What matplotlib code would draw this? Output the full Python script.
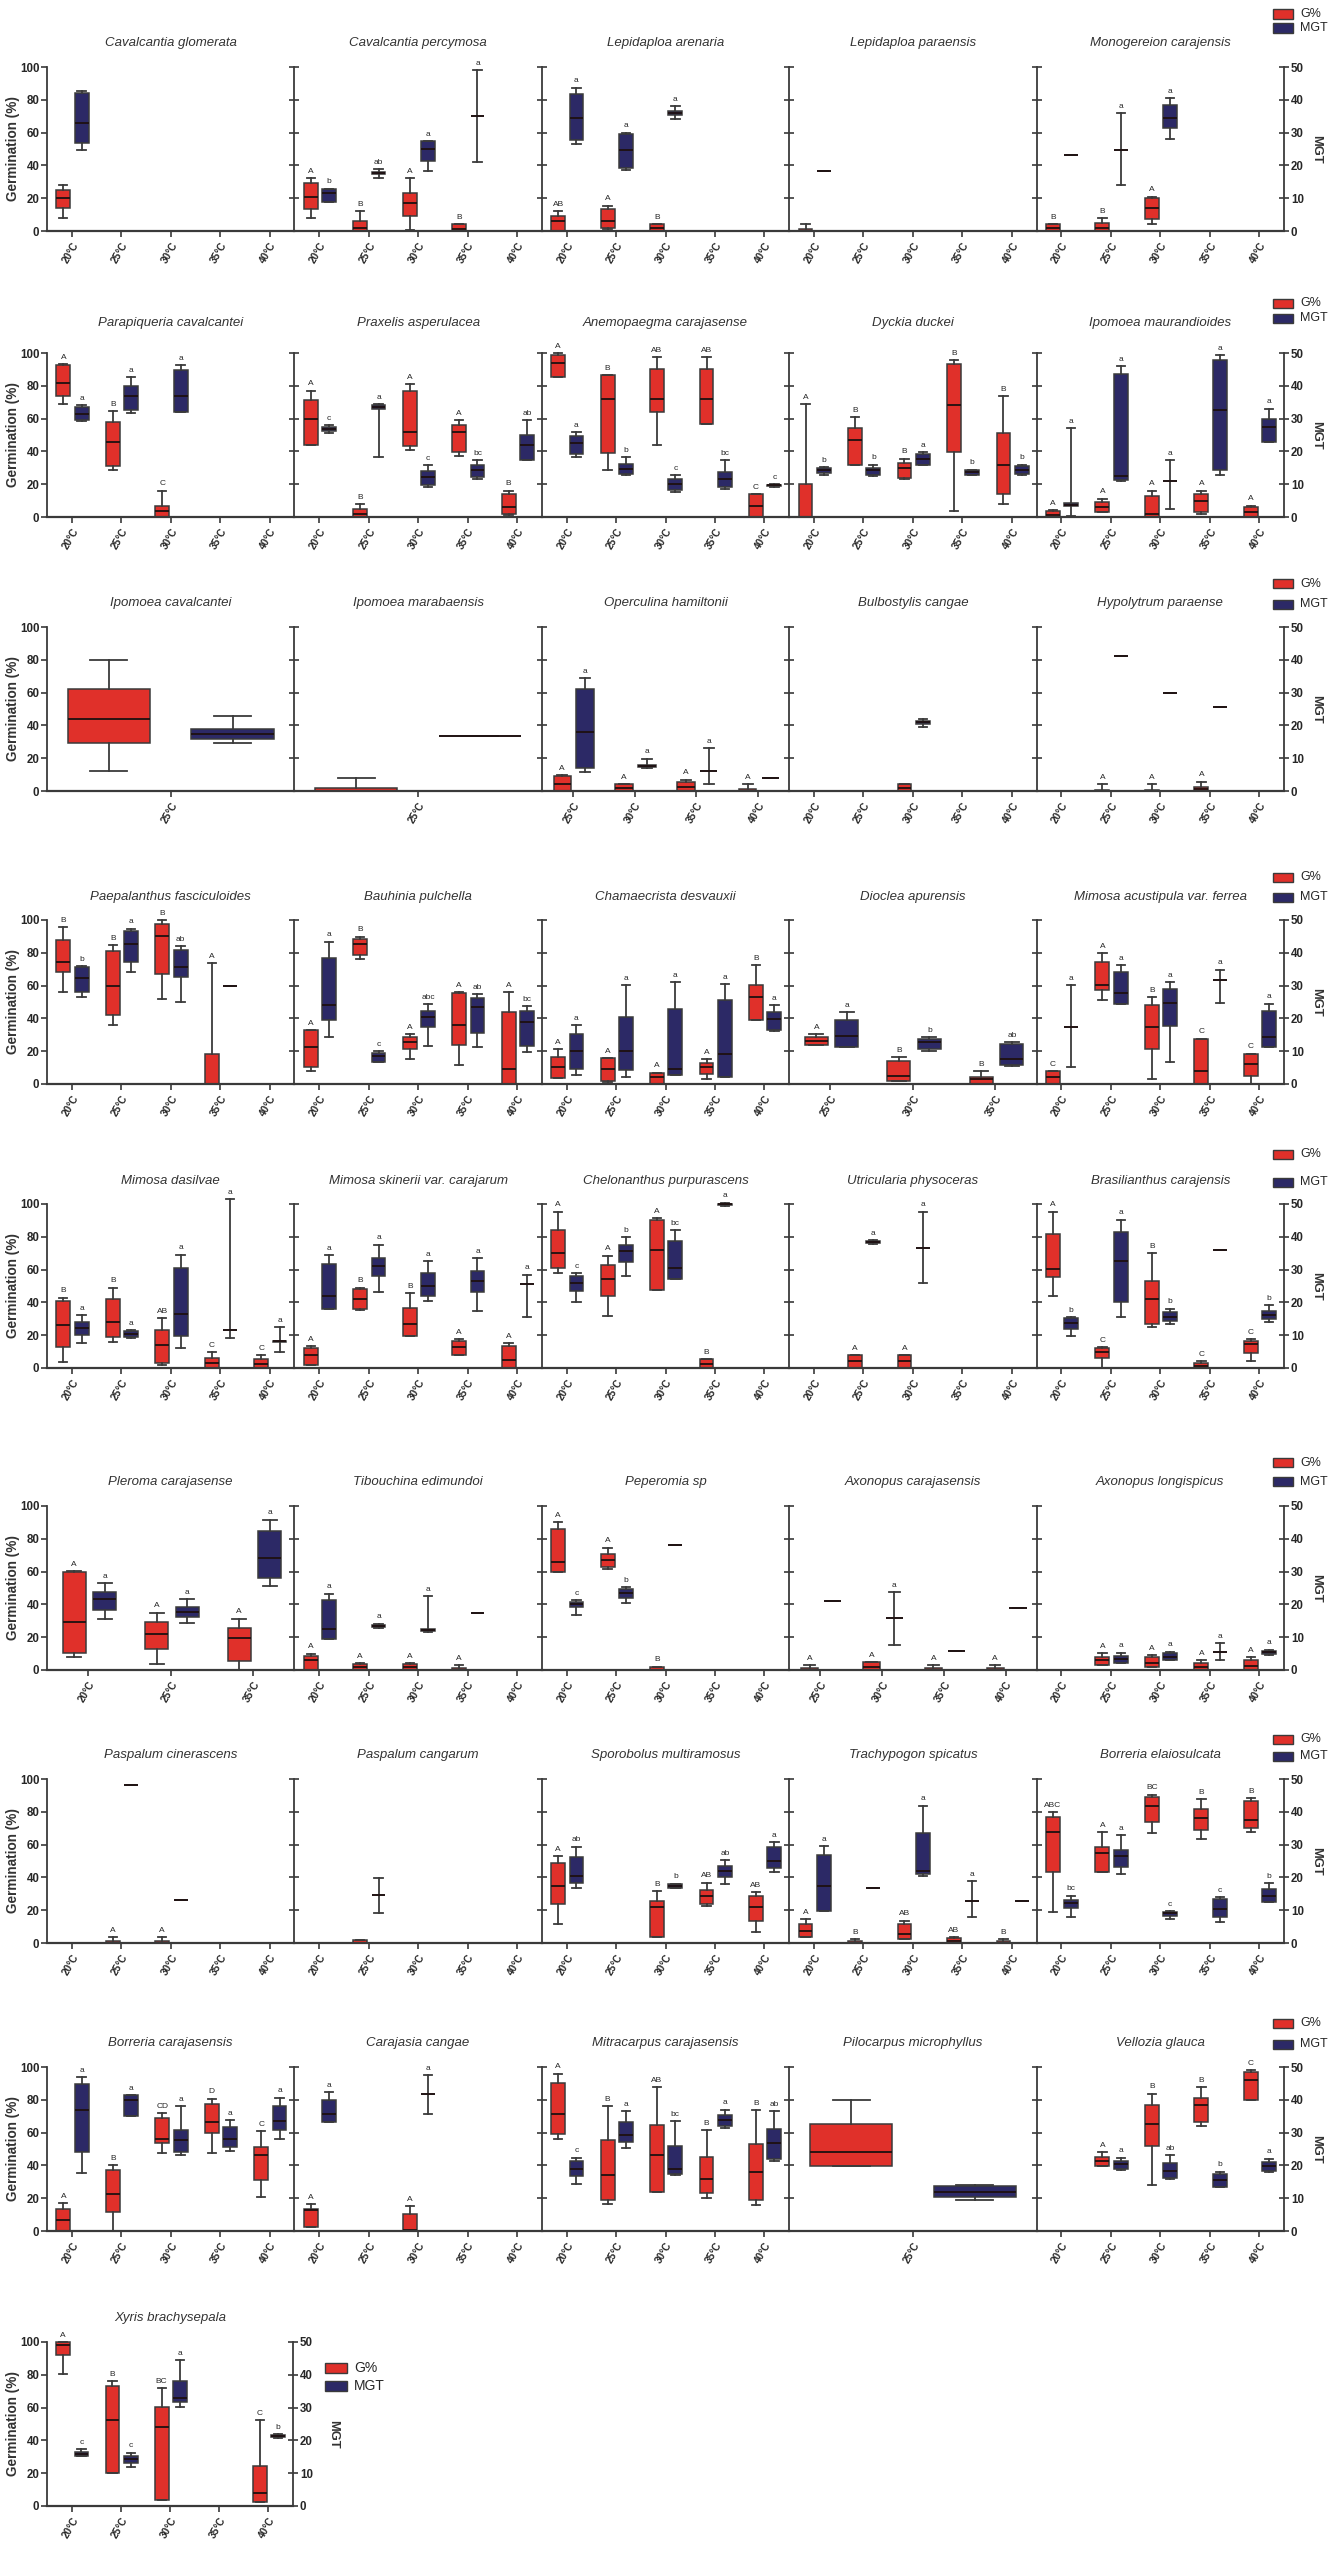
import matplotlib
matplotlib.use("Agg")
import matplotlib.pyplot as plt
from matplotlib.patches import Rectangle

plt.rcParams['font.family'] = ['Liberation Sans', 'DejaVu Sans']

T5 = ["20°C", "25°C", "30°C", "35°C", "40°C"]
T4 = ["25°C", "30°C", "35°C", "40°C"]
T1 = ["25°C"]

# ---------------- Row 1 ----------------
row1_titles = ["Cavalcantia glomerata", "Cavalcantia percymosa", "Lepidaploa arenaria",
               "Lepidaploa paraensis", "Monogereion carajensis"]
row1_temps = [T5, T5, T5, T5, T5]
row1_g = [
    [[8, 14, 20, 25, 28], None, None, None, None],
    [[7.7, 13.7, 20.6, 29.3, 32.3], [0, 0, 2, 6, 12], [0.6, 9.1, 16.8, 23.2, 32.3], [0, 0, 1, 4, 4], None],
    [[0, 0, 6, 9, 12], [1, 2, 6, 13.5, 15.5], [0, 0, 2, 4, 4], None, None],
    [[0, 0, 0, 1, 4], None, None, None, None],
    [[0, 0, 2, 4, 4], [0, 0, 2, 4.6, 8], [4, 7.5, 14, 20, 21], None, None],
]
row1_g_letters = [["", "", "", "", ""], ["A", "B", "A", "B", ""], ["AB", "A", "B", "", ""],
                  ["", "", "", "", ""], ["B", "B", "A", "", ""]]
row1_mgt = [
    [[24.7, 26.8, 32.8, 42.1, 42.7], None, None, None, None],
    [[8.8, 8.8, 11.6, 12.9, 12.9], [16.2, 17.4, 17.7, 18, 18.9], [18.2, 21.2, 25, 27.5, 27.5], [21, 35, 35, 35, 49], None],
    [[26.6, 27.8, 34.3, 41.9, 43.7], [18.7, 19.2, 24.7, 29.5, 30], [34, 35.5, 36, 36.5, 38], None, None],
    [[18.2, 18.2, 18.2, 18.2, 18.2], None, None, None, None],
    [[23.2, 23.2, 23.2, 23.2, 23.2], [14, 24.7, 24.7, 24.7, 36], [28, 31.3, 34.3, 38.4, 40.4], None, None],
]
row1_mgt_letters = [["", "", "", "", ""], ["b", "ab", "a", "a", ""], ["a", "a", "a", "", ""],
                    ["", "", "", "", ""], ["", "a", "a", "", ""]]

# ---------------- Row 2 ----------------
row2_titles = ["Parapiqueria cavalcantei", "Praxelis asperulacea", "Anemopaegma carajasense",
               "Dyckia duckei", "Ipomoea maurandioides"]
row2_temps = [T5, T5, T5, T5, T5]
row2_g = [
    [[69, 74, 82, 92.5, 93], [28.5, 31, 46, 58, 64.6], [0, 0, 3.5, 7, 16], None, None],
    [[43.7, 43.7, 60, 71.5, 77], [0, 0, 2, 5, 8], [40.7, 43, 52, 77, 81], [37, 39.6, 51.8, 56.3, 59], [1, 2, 6, 14.2, 16]],
    [[85.4, 85.4, 94, 99, 100], [28.9, 39, 72, 86.4, 86.4], [43.7, 64, 72, 90.4, 97.6], [57, 57, 72, 90.4, 97.6], [0, 0, 7, 14, 14]],
    [[0, 0, 0, 20, 69], [32, 32, 46.7, 54, 61], [23.4, 24, 30, 33, 35.6], [3.7, 39.6, 68, 93.5, 95.5], [8, 14, 32, 51, 73.6]],
    [[0, 0, 1, 3.7, 4], [3, 3, 6, 9, 11.2], [0, 0, 2, 13, 16], [1.6, 3, 10, 14.2, 16], [0, 0, 3, 6, 7]],
]
row2_g_letters = [["A", "B", "C", "", ""], ["A", "B", "A", "A", "B"], ["A", "B", "AB", "AB", "C"],
                  ["A", "B", "B", "B", "B"], ["A", "A", "A", "A", "A"]]
row2_mgt = [
    [[29.3, 29.5, 31.3, 33.5, 34], [31.7, 32.5, 37, 40, 42.7], [32, 32, 37, 44.7, 46.2], None, None],
    [[25.6, 26.2, 26.8, 27.4, 28], [18.3, 33, 33.5, 34, 34.5], [9.1, 9.7, 12.2, 13.9, 15.8], [11.7, 12.2, 14.2, 15.8, 17.3], [17.3, 17.3, 21.8, 24.9, 29.5]],
    [[18.3, 19.1, 22.6, 24.7, 25.9], [12.7, 13.2, 14.7, 16.3, 18.3], [7.6, 8.1, 10.2, 11.7, 12.7], [8.6, 9.1, 11.7, 13.7, 17.3], [9.2, 9.5, 9.7, 9.9, 10.1]],
    [[12.7, 13.5, 14.4, 14.8, 15.2], [12.4, 12.7, 14.2, 15, 16], [16, 16, 17.6, 19.1, 19.8], [12.7, 12.7, 13.7, 14.4, 14.4], [12.7, 13, 14.2, 15.4, 16]],
    [[0.2, 3.5, 3.8, 4.2, 27], [11, 11.2, 12.5, 43.5, 46], [2.5, 10.9, 10.9, 10.9, 17.3], [12.7, 14.2, 32.5, 47.8, 49.3], [22.9, 22.9, 27.4, 30, 33]],
]
row2_mgt_letters = [["a", "a", "a", "", ""], ["c", "a", "c", "bc", "ab"], ["a", "b", "c", "bc", "c"],
                    ["b", "b", "a", "b", "b"], ["a", "a", "a", "a", "a"]]

# ---------------- Row 3 ----------------
row3_titles = ["Ipomoea cavalcantei", "Ipomoea marabaensis", "Operculina hamiltonii",
               "Bulbostylis cangae", "Hypolytrum paraense"]
row3_temps = [T1, T1, T4, T5, T5]
row3_g = [
    [[12, 29.5, 44, 62, 80]],
    [[0, 0, 0, 2, 8]],
    [[0, 0, 4, 9, 9.7], [0, 0, 2, 4, 4], [0, 0, 2.6, 5.3, 7], [0, 0, 0, 1, 4]],
    [None, None, [0, 0, 2, 4, 4], None, None],
    [None, [0, 0, 0, 0.5, 4], [0, 0, 0, 0.5, 4], [0, 0, 1, 2.6, 5.7], None],
]
row3_g_letters = [[""], [""], ["A", "A", "A", "A"], ["", "", "", "", ""], ["", "A", "A", "A", ""]]
row3_mgt = [
    [[14.7, 15.8, 17.3, 19, 23]],
    [[16.8, 16.8, 16.8, 16.8, 16.8]],
    [[5.9, 7.1, 18, 31, 34.5], [7, 7.3, 7.6, 7.9, 9.9], [2, 6, 6.1, 6.2, 13], [4.1, 4.1, 4.1, 4.1, 4.1]],
    [None, None, [19.6, 20.5, 20.9, 21.3, 22], None, None],
    [None, [41.2, 41.2, 41.2, 41.2, 41.2], [30, 30, 30, 30, 30], [25.7, 25.7, 25.7, 25.7, 25.7], None],
]
row3_mgt_letters = [[""], [""], ["a", "a", "a", ""], ["", "", "", "", ""], ["", "", "", "", ""]]

# ---------------- Row 4 ----------------
row4_titles = ["Paepalanthus fasciculoides", "Bauhinia pulchella", "Chamaecrista desvauxii",
               "Dioclea apurensis", "Mimosa acustipula var. ferrea"]
row4_temps = [T5, T5, T5, ["25°C", "30°C", "35°C"], T5]
row4_g = [
    [[56, 68, 74.5, 88, 95.5], [35.7, 41.8, 60, 81.2, 84.7], [52, 67, 90.4, 97.6, 100], [0, 0, 0, 18.4, 73.5], None],
    [[7.8, 10.6, 22.4, 33, 33], [76, 78.6, 85.3, 88.2, 89.8], [15.3, 21.4, 25.5, 28.6, 30.2], [11.8, 23.5, 35.7, 55.5, 56], [0, 0, 9.2, 43.9, 56]],
    [[3.7, 3.7, 10.2, 16.7, 21.4], [1, 2, 9.2, 15.9, 15.9], [0, 0, 4, 7, 7], [3, 6.1, 10.2, 12.7, 15.3], [39.2, 39.2, 53, 60.2, 72.4]],
    [[23.5, 23.5, 26.5, 28.6, 30.6], [1.6, 1.6, 5.1, 13.9, 16.3], [0, 0, 3, 4.5, 8]],
    [[0, 0, 4, 8, 8], [51.4, 57.1, 60.2, 74.5, 79.6], [3, 21.4, 34.7, 48, 53], [0, 0, 7.8, 27.6, 27.6], [0, 5, 12, 18, 18.5]],
]
row4_g_letters = [["B", "B", "B", "A", ""], ["A", "B", "A", "A", "A"], ["A", "A", "A", "A", "B"],
                  ["A", "B", "B"], ["C", "A", "B", "C", "C"]]
row4_mgt = [
    [[26.5, 28.1, 32.4, 35.7, 35.9], [34.2, 37.2, 42.7, 46.7, 47.4], [25, 32.7, 35.7, 40.8, 42], [29.9, 29.9, 29.9, 29.9, 29.9], None],
    [[14.3, 19.4, 24, 38.3, 43.4], [6.6, 6.6, 8.4, 9.4, 10], [11.7, 17.3, 20.4, 22.4, 24.3], [11.2, 15.5, 23.5, 26.3, 27.3], [9.7, 11.7, 18.9, 22.4, 23.7]],
    [[2.6, 4.6, 10, 15.3, 17.9], [2, 4.3, 10.2, 20.4, 30.1], [2.6, 2.6, 4.6, 23, 31.1], [2.2, 2.2, 9.2, 25.7, 30.4], [16.1, 16.5, 19.9, 21.9, 24]],
    [[11.2, 11.2, 14.5, 19.4, 21.9], [10, 10.7, 12.8, 13.8, 14.3], [5.6, 5.9, 7.7, 12.2, 12.8]],
    [[5.1, 17.3, 17.3, 17.3, 30.1], [24.5, 24.5, 27.6, 34.2, 36.2], [6.6, 17.6, 24.8, 29.1, 31.1], [24.7, 31.6, 31.6, 31.6, 34.9], [11.2, 11.2, 14.3, 22.4, 24.5]],
]
row4_mgt_letters = [["b", "a", "ab", "", ""], ["a", "c", "abc", "ab", "bc"], ["a", "a", "a", "a", "a"],
                    ["a", "b", "ab"], ["a", "a", "a", "a", "a"]]

# ---------------- Row 5 ----------------
row5_titles = ["Mimosa dasilvae", "Mimosa skinerii var. carajarum", "Chelonanthus purpurascens",
               "Utricularia physoceras", "Brasilianthus carajensis"]
row5_temps = [T5, T5, T5, T5, T5]
row5_g = [
    [[3.6, 12.7, 26.4, 40.9, 42.9], [15.7, 18.8, 28.2, 42.3, 49], [2, 3.2, 14.1, 23.4, 30.2], [0, 0, 3, 6, 9.7], [0, 0, 2.6, 5.2, 8]],
    [[2, 2, 8.1, 12.1, 13.3], [35.5, 35.9, 42.3, 48.4, 49], [19.8, 19.8, 26.8, 36.3, 45.6], [8.1, 8.1, 12.7, 16.7, 17.7], [0, 0, 4.6, 13.3, 15.3]],
    [[58, 61.1, 70.2, 84.3, 95.4], [31.9, 44, 54.4, 63.1, 68.5], [47.6, 47.6, 72.2, 90.3, 91.3], [0, 0, 2.6, 5.2, 5.5], None],
    [None, [0, 0, 4, 8, 8], [0, 0, 4, 8, 8], None, None],
    [[44, 55.6, 60.1, 81.9, 95.4], [0, 6, 9.7, 12.1, 12.7], [24.8, 26.8, 41.9, 53, 70.2], [0, 0, 1, 3.2, 4], [4, 9.3, 14.7, 16.7, 17.7]],
]
row5_g_letters = [["B", "B", "AB", "C", "C"], ["A", "B", "B", "A", "A"], ["A", "A", "A", "B", ""],
                  ["", "A", "A", "", ""], ["A", "C", "B", "C", "C"]]
row5_mgt = [
    [[7.7, 10.1, 12.2, 14.1, 16.1], [9.2, 9.4, 10.4, 11.4, 11.6], [6, 9.7, 16.4, 30.5, 34.6], [9.1, 11.7, 11.7, 11.7, 51.5], [4.8, 8, 8.1, 8.2, 12.4]],
    [[17.9, 17.9, 22, 31.6, 34.3], [23.2, 28, 31, 33.6, 37.6], [20.5, 22, 25, 29, 32.6], [17.4, 23.2, 26.5, 29.5, 33.6], [15.4, 25.5, 25.5, 25.5, 28.5]],
    [[20.2, 23.5, 25.8, 28.2, 29], [28, 32.3, 35.6, 37.6, 39.9], [27, 27, 30.5, 38.6, 42.1], [49.3, 49.7, 49.9, 50.1, 50.4], None],
    [None, [37.8, 38.1, 38.4, 38.7, 39], [26, 36.6, 36.6, 36.6, 47.7], None, None],
    [[9.9, 11.9, 13.7, 15.1, 15.6], [15.4, 20.2, 32.6, 41.6, 45.2], [13.4, 14.4, 15.7, 17.1, 18.1], [36.1, 36.1, 36.1, 36.1, 36.1], [14.1, 14.9, 16.1, 17.4, 19.2]],
]
row5_mgt_letters = [["a", "a", "a", "a", "a"], ["a", "a", "a", "a", "a"], ["c", "b", "bc", "a", ""],
                    ["", "a", "a", "", ""], ["b", "a", "b", "", "b"]]

# ---------------- Row 6 ----------------
row6_titles = ["Pleroma carajasense", "Tibouchina edimundoi", "Peperomia sp",
               "Axonopus carajasensis", "Axonopus longispicus"]
row6_temps = [["20°C", "25°C", "35°C"], T5, T5, T4, T5]
row6_g = [
    [[7.7, 10.5, 29.4, 59.8, 60.4], [3.7, 12.6, 21.9, 29.4, 34.9], [0, 5.7, 19.7, 25.4, 31.4]],
    [[0, 0, 6.1, 8.5, 10], [0, 0, 2, 3.7, 4], [0, 0, 2, 3.7, 4], [0, 0, 0, 1, 3], None],
    [[59.8, 59.8, 65.9, 86.2, 90.3], [61.3, 62.9, 66.9, 71, 74.6], [0, 0, 0, 1.6, 2], None, None],
    [[0, 0, 0, 1, 3], [0, 0, 2, 5, 5], [0, 0, 0, 1, 3], [0, 0, 0, 1, 3]],
    [None, [3, 3, 6.1, 8.1, 10.5], [1.6, 2, 4, 7.7, 9.1], [0, 0, 2, 4.5, 6.1], [0, 0, 2.4, 6.1, 7.7]],
]
row6_g_letters = [["A", "A", "A"], ["A", "A", "A", "A", ""], ["A", "A", "B", "", ""],
                  ["A", "A", "A", "A"], ["", "A", "A", "A", "A"]]
row6_mgt = [
    [[15.4, 18.3, 21.5, 23.8, 26.4], [14.2, 16.2, 17.7, 19.3, 21.5], [25.6, 27.9, 34, 42.4, 45.8]],
    [[9.6, 9.6, 12.4, 21.3, 23.3], [12.7, 13.1, 13.4, 13.7, 14.1], [11.7, 12, 12.2, 12.4, 22.5], [17.4, 17.4, 17.4, 17.4, 17.4], None],
    [[16.7, 19.3, 20.1, 20.8, 21.3], [20.3, 22.1, 23.5, 24.8, 25.3], [38, 38, 38, 38, 38], None, None],
    [[20.9, 20.9, 20.9, 20.9, 20.9], [7.6, 16, 16, 16, 23.8], [5.9, 5.9, 5.9, 5.9, 5.9], [19, 19, 19, 19, 19]],
    [None, [2.2, 2.2, 3.5, 4.3, 5.3], [3, 3, 4.1, 5.1, 5.6], [3, 5.6, 5.6, 5.6, 8.1], [4.7, 4.9, 5.4, 5.9, 6.2]],
]
row6_mgt_letters = [["a", "a", "a"], ["a", "a", "a", "", ""], ["c", "b", "", "", ""],
                    ["", "a", "", ""], ["", "a", "a", "a", "a"]]

# ---------------- Row 7 ----------------
row7_titles = ["Paspalum cinerascens", "Paspalum cangarum", "Sporobolus multiramosus",
               "Trachypogon spicatus", "Borreria elaiosulcata"]
row7_temps = [T5, T5, T5, T5, T5]
row7_g = [
    [None, [0, 0, 0, 1.4, 3.4], [0, 0, 0, 1.4, 3.4], None, None],
    [None, [0, 0, 0, 1.8, 1.8], None, None, None],
    [[11.5, 23.7, 34.8, 48.6, 53], None, [3.4, 3.4, 21.7, 25.7, 31.8], [22.7, 23.7, 28.7, 32.4, 36.8], [6.9, 13.6, 21.7, 28.7, 31.2]],
    [[3.4, 3.4, 7.5, 11.5, 14.6], [0, 0, 0, 1, 2.4], [2.4, 2.4, 5.5, 11.5, 13.6], [0, 0, 1, 2.8, 3.4], [0, 0, 0, 1, 2.4]],
    [[19, 43.3, 67.6, 76.9, 79.8], [43.3, 43.3, 55.1, 58.7, 67.6], [67.2, 73.7, 83.8, 89.1, 90.5], [63.2, 69.2, 76.3, 81.8, 87.9], [67.6, 70.2, 75.3, 86.4, 88.5]],
]
row7_g_letters = [["", "A", "A", "", ""], ["", "", "", "", ""], ["A", "", "B", "AB", "AB"],
                  ["A", "B", "AB", "AB", "B"], ["ABC", "A", "BC", "B", "B"]]
row7_mgt = [
    [None, [48.1, 48.1, 48.1, 48.1, 48.1], [13.2, 13.2, 13.2, 13.2, 13.2], None, None],
    [None, [9.1, 14.6, 14.6, 14.6, 19.9], None, None, None],
    [[16.9, 18.2, 20.4, 26.3, 29.4], None, [16.7, 16.9, 17.4, 17.9, 18.1], [17.9, 20.2, 22, 23.5, 25.3], [21.7, 23, 25, 29.4, 30.8]],
    [[9.8, 9.8, 17.4, 26.7, 29.6], [16.7, 16.7, 16.7, 16.7, 16.7], [20.4, 21, 22, 33.6, 41.9], [7.8, 12.7, 12.7, 12.7, 18.9], [12.8, 12.8, 12.8, 12.8, 12.8]],
    [[7.8, 10.8, 12.3, 13.2, 14.4], [21, 23.3, 26.5, 28.5, 32.8], [7.3, 8.3, 9.1, 9.5, 9.8], [6.5, 7.8, 10.5, 13.4, 13.9], [12.6, 12.6, 14.4, 16.4, 18.2]],
]
row7_mgt_letters = [["", "", "", "", ""], ["", "", "", "", ""], ["ab", "", "b", "ab", "a"],
                    ["a", "", "a", "a", ""], ["bc", "a", "c", "c", "b"]]

# ---------------- Row 8 ----------------
row8_titles = ["Borreria carajasensis", "Carajasia cangae", "Mitracarpus carajasensis",
               "Pilocarpus microphyllus", "Vellozia glauca"]
row8_temps = [T5, T5, T5, T1, T5]
row8_g = [
    [[0, 0, 6.7, 13.2, 16.8], [0, 11.8, 22.5, 37.1, 40.2], [47.7, 53.8, 56.4, 69.2, 72], [47.7, 59.8, 66.5, 77.7, 80.7], [20.5, 31.4, 46.2, 51.3, 61]],
    [[2.6, 2.6, 12.8, 13.2, 16.4], None, [0, 0, 0.5, 10.3, 15], None, None],
    [[55.8, 59, 71.2, 90.3, 95.9], [16.4, 18.9, 34.1, 55.4, 76.1], [23.9, 23.9, 46.2, 64.5, 87.8], [19.9, 23.3, 32, 45.2, 61.5], [15.8, 18.9, 36.1, 52.9, 73.6]],
    [[39.6, 39.6, 48.3, 65.5, 80.1]],
    [None, [39.6, 39.6, 42.8, 45.2, 48.3], [28, 51.7, 65.1, 76.7, 83.8], [63.9, 66.5, 76.7, 81.3, 87.8], [79.7, 79.7, 92.3, 97, 98]],
]
row8_g_letters = [["A", "B", "CD", "D", "C"], ["A", "", "A", "", ""], ["A", "B", "AB", "B", "B"],
                  [""], ["", "A", "B", "B", "C"]]
row8_mgt = [
    [[17.7, 24.1, 37, 44.9, 47], [35, 35, 39.9, 41.4, 41.4], [23.1, 24.1, 27.7, 30.9, 38], [24.4, 25.5, 27.9, 31.7, 33.8], [27.9, 30.7, 33.6, 38, 40.7]],
    [[33.3, 33.3, 35.8, 40, 42.4], None, [35.6, 41.7, 41.7, 41.7, 47.5], None, None],
    [[14.3, 16.7, 18.8, 21.4, 22.4], [25.2, 27.2, 29.2, 33.3, 36.6], [17, 17.5, 18.8, 25.9, 33.6], [31.5, 31.9, 33.8, 35.3, 37], [21.4, 22.1, 26.9, 31.2, 36.6]],
    [[9.4, 10.4, 12, 13.7, 14]],
    [None, [18.6, 18.8, 20.4, 21.4, 22.4], [16, 16.3, 18.4, 20.6, 23.1], [13.5, 13.5, 15.5, 17.5, 18.1], [18.1, 18.4, 19.8, 21.1, 22.1]],
]
row8_mgt_letters = [["a", "a", "a", "a", "a"], ["a", "", "a", "", ""], ["c", "a", "bc", "a", "ab"],
                    [""], ["", "a", "ab", "b", "a"]]

# ---------------- Row 9 ----------------
row9_titles = ["Xyris brachysepala"]
row9_temps = [T5]
row9_g = [[[80.4, 92.3, 98.4, 100, 100], [20, 20, 52.5, 72.9, 76], [3.7, 3.7, 48.1, 60.1, 71.9], None, [2.6, 2.6, 8.1, 24.6, 52.5]]]
row9_g_letters = [["A", "B", "BC", "", "C"]]
row9_mgt = [[[15.3, 15.3, 15.9, 16.6, 17.3], [12, 13.2, 14.3, 15.3, 16.3], [30.3, 31.6, 32.9, 38, 44.4], None, [20.8, 21, 21.4, 21.7, 22]]]
row9_mgt_letters = [["c", "c", "a", "", "b"]]

G_TICKS = [0, 20, 40, 60, 80, 100]
MGT_TICKS = [0, 10, 20, 30, 40, 50]

# ---------------- layout / style ----------------
W, H = 1339, 2550
RED = '#e0302a'
BLUE = '#2c2966'
EDGE = '#3a3a3a'
TXT = '#262626'

fig = plt.figure(figsize=(W / 100, H / 100), dpi=100)


def add_axes_px(x, top, w, h):
    return fig.add_axes([x / W, 1 - (top + h) / H, w / W, h / H])


def draw_series(ax, stats_list, positions, width, color, capw):
    stats, pos = [], []
    for s, p in zip(stats_list, positions):
        if s is None:
            continue
        lo, q1, med, q3, hi = s
        stats.append(dict(whislo=lo, q1=q1, med=med, q3=q3, whishi=hi, fliers=[]))
        pos.append(p)
    if not stats:
        return
    art = ax.bxp(stats, positions=pos, widths=width, capwidths=capw, patch_artist=True,
                 showfliers=False, manage_ticks=False,
                 boxprops=dict(facecolor=color, edgecolor=EDGE, linewidth=1.1),
                 medianprops=dict(color='#1e1010', linewidth=1.3),
                 whiskerprops=dict(color=EDGE, linewidth=1.3),
                 capprops=dict(color=EDGE, linewidth=1.3))
    for v in art.values():
        for a in v:
            a.set_clip_on(False)


def draw_letters(ax, stats_list, letters, positions, pad):
    for s, lab, p in zip(stats_list, letters, positions):
        if s is None or not lab:
            continue
        ax.text(p, s[4] + pad, lab, ha='center', va='bottom', fontsize=6,
                color=TXT, clip_on=False)


def panel(x, top, w, h, title, temps, g, mgt, gl, ml, first, last, toff):
    ax = add_axes_px(x, top, w, h)
    n = len(temps)
    ax.set_xlim(-0.5, n - 0.5)
    ax.set_ylim(0, 100)
    ax.patch.set_alpha(0)
    ax2 = ax.twinx()
    ax2.set_ylim(0, 50)
    if n == 1:
        off_r, off_b, bw = -0.25, 0.25, 0.333
        capw = bw * 0.45
    else:
        off_r, off_b, bw = -0.17, 0.20, 0.28
        capw = bw * 0.6
    pr = [i + off_r for i in range(n)]
    pb = [i + off_b for i in range(n)]
    draw_series(ax, g, pr, bw, RED, capw)
    draw_series(ax2, mgt, pb, bw, BLUE, capw)
    draw_letters(ax, g, gl, pr, 2.0)
    draw_letters(ax2, mgt, ml, pb, 1.0)

    for sp in ['top', 'right']:
        ax.spines[sp].set_visible(False)
    ax.spines['left'].set_color(EDGE)
    ax.spines['left'].set_linewidth(1.3)
    ax.spines['bottom'].set_color(EDGE)
    ax.spines['bottom'].set_linewidth(1.6)
    for sp in ['top', 'left', 'bottom']:
        ax2.spines[sp].set_visible(False)

    ax.set_yticks(G_TICKS)
    if first:
        ax.set_yticklabels([str(t) for t in G_TICKS], fontsize=8.3, fontweight='bold', color=TXT)
        ax.tick_params(axis='y', direction='out', length=4, width=1.2, color=EDGE, pad=1.5)
    else:
        ax.tick_params(axis='y', direction='inout', length=7, width=1.2, color=EDGE, labelleft=False)

    ax.set_xticks(range(n))
    ax.set_xticklabels(temps, rotation=60, ha='right', va='top', rotation_mode='anchor',
                       fontsize=7.3, fontweight='bold', color=TXT)
    ax.tick_params(axis='x', direction='out', length=4, width=1.2, color=EDGE, pad=3)

    if last:
        ax2.spines['right'].set_visible(True)
        ax2.spines['right'].set_color(EDGE)
        ax2.spines['right'].set_linewidth(1.3)
        ax2.set_yticks(MGT_TICKS)
        ax2.set_yticklabels([str(t) for t in MGT_TICKS], fontsize=8.3, fontweight='bold', color=TXT)
        ax2.tick_params(axis='y', direction='inout', length=7, width=1.2, color=EDGE, pad=1.5)
    else:
        ax2.spines['right'].set_visible(False)
        ax2.set_yticks([])

    fig.text((x + w / 2) / W, 1 - (top - toff) / H, title, ha='center', va='center',
             fontsize=9.5, fontstyle='italic', color='#333333')
    return ax


def legend(xbox, yg, ym, fs, bw=20, bh=9):
    for y, c, lab in [(yg, RED, 'G%'), (ym, BLUE, 'MGT')]:
        fig.patches.append(Rectangle((xbox / W, 1 - (y + bh / 2) / H), bw / W, bh / H,
                                     transform=fig.transFigure, facecolor=c,
                                     edgecolor=EDGE, linewidth=1.0))
        fig.text((xbox + bw + 7) / W, 1 - y / H, lab, ha='left', va='center',
                 fontsize=fs, color=TXT)


rows = [
    (row1_titles, row1_temps, row1_g, row1_mgt, row1_g_letters, row1_mgt_letters),
    (row2_titles, row2_temps, row2_g, row2_mgt, row2_g_letters, row2_mgt_letters),
    (row3_titles, row3_temps, row3_g, row3_mgt, row3_g_letters, row3_mgt_letters),
    (row4_titles, row4_temps, row4_g, row4_mgt, row4_g_letters, row4_mgt_letters),
    (row5_titles, row5_temps, row5_g, row5_mgt, row5_g_letters, row5_mgt_letters),
    (row6_titles, row6_temps, row6_g, row6_mgt, row6_g_letters, row6_mgt_letters),
    (row7_titles, row7_temps, row7_g, row7_mgt, row7_g_letters, row7_mgt_letters),
    (row8_titles, row8_temps, row8_g, row8_mgt, row8_g_letters, row8_mgt_letters),
]
row_tops = [67, 353, 627, 920, 1204, 1506, 1779, 2067]
title_offs = [24, 30, 24, 23, 23, 24, 24, 24]
leg_g_offs = [53, 50, 43, 43, 50, 43, 40, 44]
leg_m_offs = [39, 35, 23, 23, 22, 24, 23, 23]
LEFT = 47
PW = 247.4
PH = 164

for r, (titles, temps, g, mgt, gl, ml) in enumerate(rows):
    top = row_tops[r]
    for k in range(5):
        panel(LEFT + k * PW, top, PW, PH, titles[k], temps[k], g[k], mgt[k], gl[k], ml[k],
              first=(k == 0), last=(k == 4), toff=title_offs[r])
    ycen = top + PH / 2
    fig.text(13 / W, 1 - ycen / H, 'Germination (%)', rotation=90, ha='center', va='center',
             fontsize=9.8, fontweight='bold', color='#333333')
    fig.text(1316 / W, 1 - ycen / H, 'MGT', rotation=270, ha='center', va='center',
             fontsize=9.3, fontweight='bold', color='#333333')
    legend(1273, top - leg_g_offs[r], top - leg_m_offs[r], 9)

# Row 9 : Xyris brachysepala
top9 = 2342
panel(LEFT, top9, 246, PH, row9_titles[0], row9_temps[0], row9_g[0], row9_mgt[0],
      row9_g_letters[0], row9_mgt_letters[0], first=True, last=True, toff=24)
fig.text(13 / W, 1 - (top9 + PH / 2) / H, 'Germination (%)', rotation=90, ha='center',
         va='center', fontsize=9.8, fontweight='bold', color='#333333')
fig.text(333 / W, 1 - (top9 + 92) / H, 'MGT', rotation=270, ha='center', va='center',
         fontsize=9.3, fontweight='bold', color='#333333')
legend(325, 2368, 2386, 10, bw=22, bh=10)

fig.savefig('out.png', dpi=100)
